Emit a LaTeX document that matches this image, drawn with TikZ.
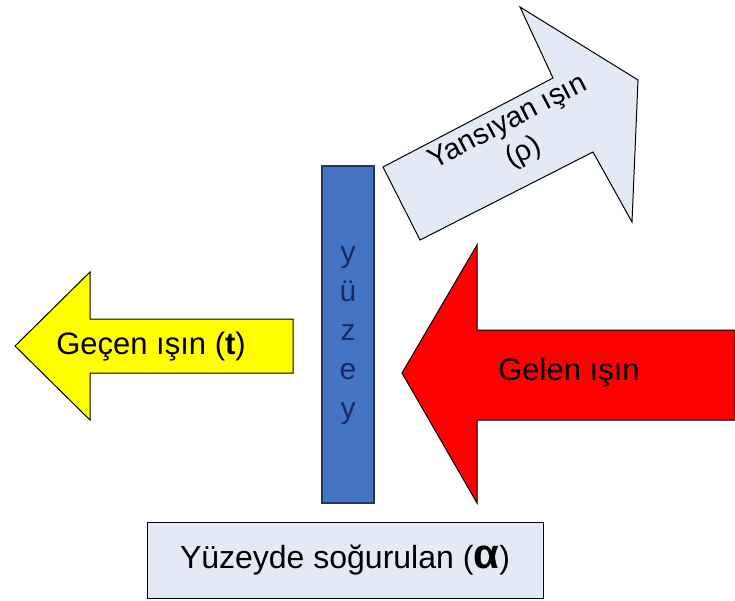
\documentclass[tikz,border=0pt]{standalone}
\usepackage{fontspec}
\setmainfont{Liberation Sans}
\definecolor{surf}{HTML}{4674C4}
\definecolor{surfdark}{HTML}{1F3463}
\definecolor{surftext}{HTML}{1A2A66}
\definecolor{lightbox}{HTML}{E4EAF5}
\definecolor{rayred}{HTML}{FF0000}
\definecolor{rayyellow}{HTML}{FFFF00}
\begin{document}
\begin{tikzpicture}[x=1pt,y=-1pt,
  arrowshape/.style={draw=black, line width=1pt, line join=miter},
  lbl/.style={font=\fontsize{31}{36}\selectfont, inner sep=0pt}]
\useasboundingbox[fill=white] (0,0) rectangle (735,600);
% reflected ray (clipped block arrow)
\draw[arrowshape, fill=lightbox] (383,167) -- (553,78) -- (520,7) -- (638,80)
  -- (632,222) -- (593,152) -- (420,240) -- cycle;
% incoming ray
\draw[arrowshape, fill=rayred] (402,373) -- (477,245) -- (477,330) -- (735,330)
  -- (735,420) -- (477,420) -- (477,503) -- cycle;
% transmitted ray
\draw[arrowshape, fill=rayyellow] (15,346) -- (90,272) -- (90,319) -- (293,319)
  -- (293,373) -- (90,373) -- (90,420) -- cycle;
% surface
\draw[draw=surfdark, line width=1.2pt, fill=surf] (322,166) rectangle (374,503);
\node[lbl, align=center, text=surftext, font=\fontsize{30}{39}\selectfont]
  (yuzey) at (348,336) {y\\ü\\z\\e\\y};
% labels
\node[lbl, align=center, rotate=27.5, font=\fontsize{29}{34}\selectfont]
  (yansiyan) at (516,138) {Yansıyan ışın\\(ρ)};
\node[lbl] (gelen) at (569,373) {Gelen ışın};
\node[lbl] (gecen) at (151,347) {Geçen ışın (\textbf{t})};
\node[draw=black, line width=1pt, fill=lightbox, minimum width=396pt,
  minimum height=76pt, font=\fontsize{32}{36}\selectfont]
  (sogurulan) at (345,560) {Yüzeyde soğurulan ({\fontsize{42}{42}\selectfont\bfseries α})};
\end{tikzpicture}
\end{document}
